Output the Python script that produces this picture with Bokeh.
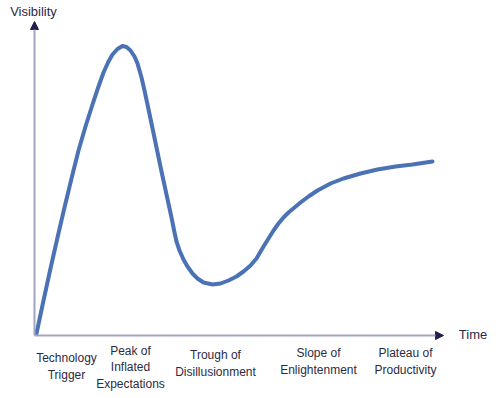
from bokeh.plotting import figure
from bokeh.models import Range1d, Arrow, NormalHead, ColumnDataSource
from bokeh.core.properties import value
from bokeh.embed import file_html
from bokeh.resources import INLINE

# Hype cycle curve (time, visibility)
curve_time = [2, 9, 16, 23, 30, 37, 44, 51, 58, 64, 69, 74, 78, 83, 88, 92,
              96, 100, 103, 107, 110, 113, 117, 122, 127, 132, 137, 140, 142,
              145, 149, 153, 158, 163, 169, 178, 186, 194, 202, 209, 216, 222,
              229, 234, 239, 244, 249, 254, 260, 266, 274, 283, 296, 309, 326,
              343, 361, 378, 398]
curve_visibility = [2, 35, 67, 98, 128, 157, 185, 209, 231, 249, 263, 274,
                    281, 286.5, 289.5, 288.5, 285, 279, 272, 258, 245, 231,
                    212, 188, 164, 141, 118, 103, 94, 85, 76, 69, 62, 57, 53,
                    51, 52, 55, 59, 64, 70, 77, 89, 97, 105, 112, 118, 123,
                    128, 133, 139, 145, 152, 157, 162, 166, 169, 171, 174]

phase_labels = ["Technology\nTrigger", "Peak of\nInflated\nExpectations",
                "Trough of\nDisillusionment", "Slope of\nEnlightenment",
                "Plateau of\nProductivity"]
phase_x = [32, 96, 181, 284, 371]
phase_y = [-31, -32, -28, -26, -26]

p = figure(width=500, height=398, output_backend="svg", toolbar_location=None,
           x_range=Range1d(-34, 466), y_range=Range1d(-63, 335),
           min_border=0, x_axis_type=None, y_axis_type=None)
p.outline_line_color = None
p.grid.visible = False
p.background_fill_color = "white"
p.border_fill_color = "white"

axis_col = "#a3a3c2"
head_col = "#20204a"
p.add_layout(Arrow(x_start=0, y_start=0, x_end=0, y_end=314, line_color=axis_col,
                   line_width=2,
                   end=NormalHead(size=8, fill_color=head_col, line_color=head_col)))
p.add_layout(Arrow(x_start=0, y_start=0, x_end=409, y_end=0, line_color=axis_col,
                   line_width=2,
                   end=NormalHead(size=8, fill_color=head_col, line_color=head_col)))

p.line(curve_time, curve_visibility, line_color="#4a72b4", line_width=4,
       line_join="round", line_cap="round")

txt_col = "#2b2b45"
src = ColumnDataSource(dict(x=phase_x, y=phase_y, t=phase_labels))
p.text(x="x", y="y", text="t", source=src, text_align="center",
       text_baseline="middle", text_font=value("Liberation Sans"),
       text_font_size="12px", text_color=txt_col, text_line_height=1.15)

p.text(x=[-1], y=[324], text=["Visibility"], text_align="center",
       text_baseline="middle", text_font=value("Liberation Sans"),
       text_font_size="13px", text_color=txt_col)
p.text(x=[438.5], y=[1], text=["Time"], text_align="center",
       text_baseline="middle", text_font=value("Liberation Sans"),
       text_font_size="13px", text_color=txt_col)

open("out.html", "w").write(file_html(p, INLINE))
